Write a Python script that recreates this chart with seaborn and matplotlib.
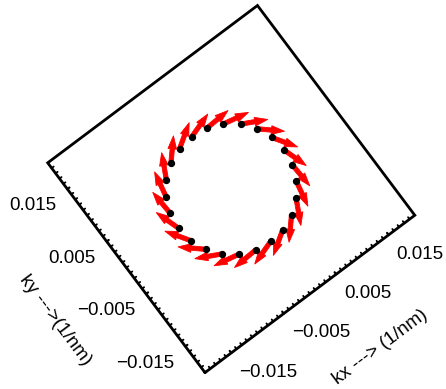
import numpy as np
import matplotlib
matplotlib.use("Agg")
import matplotlib.pyplot as plt
import seaborn as sns
from matplotlib.patches import FancyArrowPatch
from matplotlib.ticker import MultipleLocator
from mpl_toolkits.mplot3d import proj3d

# Fermi contour sampling points (1/nm)
kx = [0.0100, 0.00966, 0.00866, 0.00707, 0.00500, 0.00259, 0.0, -0.00259,
      -0.00500, -0.00707, -0.00866, -0.00966, -0.0100, -0.00966, -0.00866,
      -0.00707, -0.00500, -0.00259, 0.0, 0.00259, 0.00500, 0.00707, 0.00866,
      0.00966]
ky = [0.0, 0.00259, 0.00500, 0.00707, 0.00866, 0.00966, 0.0100, 0.00966,
      0.00866, 0.00707, 0.00500, 0.00259, 0.0, -0.00259, -0.00500, -0.00707,
      -0.00866, -0.00966, -0.0100, -0.00966, -0.00866, -0.00707, -0.00500,
      -0.00259]
# in-plane spin direction at each k point
sx = [0.309, 0.545, 0.743, 0.891, 0.978, 0.999, 0.951, 0.839, 0.669, 0.454,
      0.208, -0.052, -0.309, -0.545, -0.743, -0.891, -0.978, -0.999, -0.951,
      -0.839, -0.669, -0.454, -0.208, 0.052]
sy = [-0.951, -0.839, -0.669, -0.454, -0.208, 0.052, 0.309, 0.545, 0.743,
      0.891, 0.978, 0.999, 0.951, 0.839, 0.669, 0.454, 0.208, -0.052, -0.309,
      -0.545, -0.743, -0.891, -0.978, -0.999]

tick_values = [-0.015, -0.005, 0.005, 0.015]
tick_labels = ["\u22120.015", "\u22120.005", "0.005", "0.015"]
k_limits = (-0.02, 0.02)
arrow_len = 0.0042

sns.set_theme(style="white")
plt.rcParams["font.family"] = ["Liberation Sans", "DejaVu Sans"]
plt.rcParams["text.color"] = "black"
plt.rcParams["xtick.color"] = "black"
plt.rcParams["ytick.color"] = "black"


class Arrow3D(FancyArrowPatch):
    def __init__(self, xs, ys, zs, *args, **kwargs):
        super().__init__((0, 0), (0, 0), *args, **kwargs)
        self._verts3d = xs, ys, zs

    def do_3d_projection(self, renderer=None):
        xs3d, ys3d, zs3d = self._verts3d
        xs, ys, zs = proj3d.proj_transform(xs3d, ys3d, zs3d, self.axes.M)
        self.set_positions((xs[0], ys[0]), (xs[1], ys[1]))
        return np.min(zs)


fig = plt.figure(figsize=(4.46, 3.89), dpi=100)
ax = fig.add_axes([0.1040, 0.0388, 0.8072, 0.9254], projection="3d",
                  proj_type="ortho")
ax.view_init(elev=90, azim=-126.87, roll=0)
ax.set_box_aspect((1, 1, 0.001))
ax.computed_zorder = False

ax.set_xlim(*k_limits)
ax.set_ylim(*k_limits)
ax.set_zlim(-1, 1)

for axis in (ax.xaxis, ax.yaxis, ax.zaxis):
    axis.pane.set_visible(False)
    axis.line.set_visible(False)
for axis in (ax.xaxis, ax.yaxis):
    axis._axinfo["tick"]["inward_factor"] = 0.0
    axis._axinfo["tick"]["outward_factor"] = 0.12
    axis._axinfo["tick"]["linewidth"] = {True: 1.6, False: 1.3}
    axis._axinfo["tick"]["color"] = "black"
ax.grid(False)
ax.set_zticks([])

ax.set_xticks(tick_values, labels=tick_labels, fontsize=13.5)
ax.set_yticks(tick_values, labels=tick_labels, fontsize=13.5)
ax.xaxis.set_minor_locator(MultipleLocator(0.001))
ax.yaxis.set_minor_locator(MultipleLocator(0.001))
ax.xaxis.set_tick_params(pad=-1)
ax.yaxis.set_tick_params(pad=-1)
plt.setp(ax.get_xticklabels(), ha="left", va="top")
plt.setp(ax.get_yticklabels(), ha="right", va="top")

# square frame around the k-plane
ax.plot([k_limits[0], k_limits[1], k_limits[1], k_limits[0], k_limits[0]],
        [k_limits[0], k_limits[0], k_limits[1], k_limits[1], k_limits[0]],
        [0, 0, 0, 0, 0], color="black", lw=2, zorder=1,
        solid_joinstyle="miter", clip_on=False)

for x0, y0, u, v in zip(kx, ky, sx, sy):
    ax.add_artist(Arrow3D([x0, x0 + arrow_len * u], [y0, y0 + arrow_len * v],
                          [0, 0],
                          arrowstyle="simple,head_length=0.72,head_width=0.48,tail_width=0.24",
                          mutation_scale=13, shrinkA=0, shrinkB=0,
                          lw=0.6, color="red", zorder=2, clip_on=False))
ax.scatter(kx, ky, 0, color="black", s=18, depthshade=False, zorder=3,
           clip_on=False)

fig.text(0.852, 0.108, "kx ---> (1/nm)", rotation=36.87, fontsize=13.5,
         ha="center", va="center", rotation_mode="anchor")
fig.text(0.123, 0.177, "ky --->(1/nm)", rotation=-53.13, fontsize=13.5,
         ha="center", va="center", rotation_mode="anchor")

fig.savefig("out.png", dpi=100)
